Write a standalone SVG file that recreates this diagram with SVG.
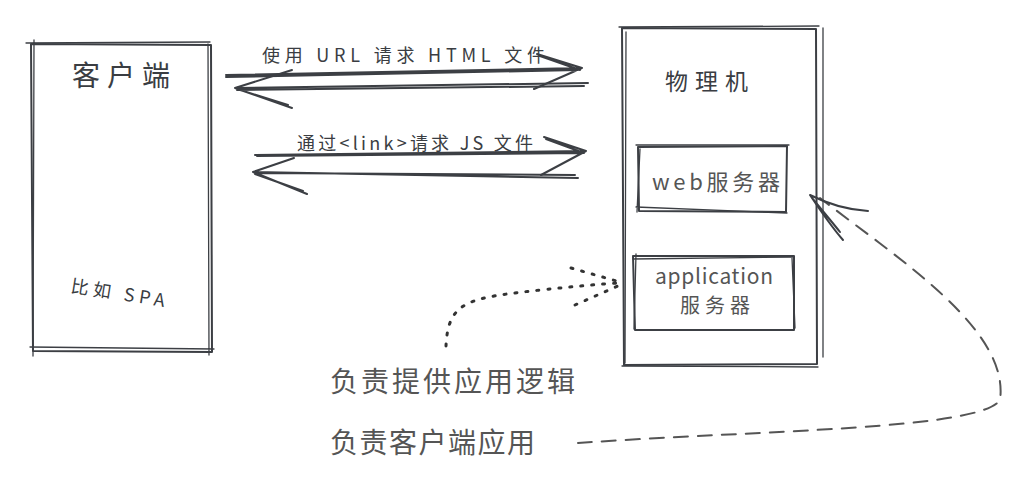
<svg xmlns="http://www.w3.org/2000/svg" width="1028" height="480" viewBox="0 0 1028 480">
<style>
.s{fill:none;stroke:#3c3f44;stroke-width:2;stroke-linecap:round;stroke-linejoin:round}
.t{stroke-width:1.3}
.dash{stroke-dasharray:14 10;stroke:#555}
.dot{stroke-dasharray:2 9;stroke-width:3;stroke:#333}
text{font-family:"Noto Sans CJK SC","Noto Sans",sans-serif;fill:#3a3d42}
.lbl{font-size:18px}
.big{font-size:28px;fill:#555}
</style>
<rect width="1028" height="480" fill="#fff"/>
<g id="client">
<path class="s" d="M31 44 L211 45 L212 352 L33 351 Z"/>
<path class="s t" d="M26 43 L210 42 M34 40 L33 356 M208 44 L209 355 M30 347 L214 349"/>
<text x="72" y="86" textLength="98" lengthAdjust="spacing" style="font-size:28px">客户端</text>
<text x="70" y="292" textLength="95" lengthAdjust="spacing" transform="rotate(9 70 292)" style="font-size:18px">比如 SPA</text>
</g>
<g id="server">
<path class="s" d="M622 28 L816 29 L817 364 L624 365 Z"/>
<path class="s t" d="M619 27 L819 26 M626 32 L625 363 M823 28 L823 357 M622 366 L818 367"/>
<text x="665" y="90" textLength="83" lengthAdjust="spacing" style="font-size:23px">物理机</text>
</g>
<g id="web">
<path class="s" d="M638 147 L787 146 L786 212 L639 211 Z"/>
<path class="s t" d="M636 145 L789 145 M640 149 L637 212 M636 207 L787 213"/>
<text x="652" y="190" textLength="128" lengthAdjust="spacing" style="font-size:22px;fill:#555">web服务器</text>
</g>
<g id="app">
<path class="s" d="M633 256 L794 256 L794 330 L635 330 Z"/>
<path class="s t" d="M633 259 L794 257 M636 254 L634 329 M792 258 L795 328"/>
<text x="655" y="284" textLength="118" lengthAdjust="spacing" style="font-size:21px;fill:#555">application</text>
<text x="680" y="313" textLength="70" lengthAdjust="spacing" style="font-size:20px;fill:#555">服务器</text>
</g>
<g id="connectors">
<path class="s" d="M226 75 L582 68 M226 77 L578 70 M582 68 L537 54 M582 68 L534 89 M580 70 L540 56"/>
<path class="s" d="M235 88 L588 83 M237 90 L584 86 M235 88 L292 70 M235 88 L292 108 M237 89 L288 105"/>
<path class="s" d="M255 155 L586 151 M257 156 L582 153 M586 151 L544 137 M586 151 L541 175 M584 153 L546 139"/>
<path class="s" d="M253 172 L578 178 M255 173 L575 175 M253 172 L294 158 M253 172 L307 194 M255 174 L303 191"/>
<path class="s dot" d="M446 346 C448 300 470 298 540 290 C580 286 600 284 620 283"/>
<path class="s dot" d="M571 268 L620 282 M575 305 L620 285"/>
<path class="s dash" d="M578 443 C760 430 980 430 1000 400 C1010 330 900 260 820 198"/>
<path class="s" d="M810 195 C830 205 850 210 868 211 M810 195 C820 210 830 225 843 240 M812 198 C822 210 832 222 840 232"/>
</g>
<g id="notes">
<text x="330" y="392" textLength="245" lengthAdjust="spacing" class="big">负责提供应用逻辑</text>
<text x="330" y="453" textLength="205" lengthAdjust="spacing" class="big">负责客户端应用</text>
<text x="262" y="62" textLength="283" lengthAdjust="spacing" class="lbl">使用 URL 请求 HTML 文件</text>
<text x="297" y="150" textLength="236" lengthAdjust="spacing" class="lbl">通过&lt;link&gt;请求 JS 文件</text>
</g>
</svg>
